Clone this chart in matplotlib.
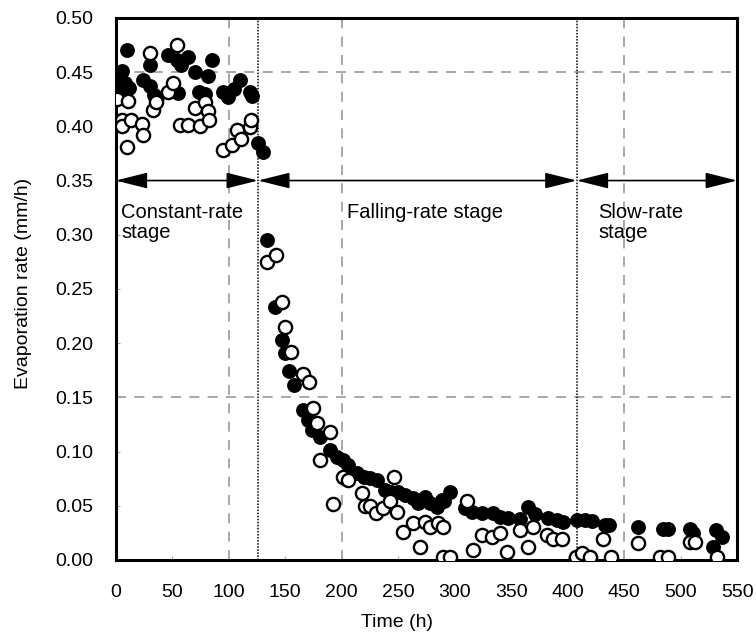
import matplotlib
matplotlib.use('Agg')
import matplotlib.pyplot as plt

plt.rcParams['font.family'] = ['Liberation Sans', 'DejaVu Sans']

# Filled circles (series 1): time (h), evaporation rate (mm/h)
t_filled = [0, 2, 4, 6, 8, 10, 12, 24, 30, 30, 34, 37, 46, 54, 55, 58, 64, 70, 74, 79,
            82, 85, 95, 99, 105, 110, 119, 121, 126, 130,
            134, 141, 147, 150, 153, 158, 166, 170, 174, 181, 190, 196, 201, 206, 214,
            220, 225, 231, 238, 244, 250, 256, 263, 268, 274, 278, 284, 289, 291, 296,
            309, 315, 324, 334, 340, 347, 358, 365, 371, 383, 391, 396, 408, 415, 422,
            433, 437, 462, 484, 489, 508, 511, 529, 531, 537]
v_filled = [0.437, 0.443, 0.430, 0.451, 0.440, 0.470, 0.435, 0.443, 0.457, 0.437, 0.429, 0.427,
            0.466, 0.461, 0.431, 0.457, 0.464, 0.450, 0.432, 0.430, 0.446, 0.461, 0.432,
            0.427, 0.434, 0.443, 0.432, 0.428, 0.385, 0.376,
            0.295, 0.233, 0.203, 0.191, 0.174, 0.161, 0.138, 0.129, 0.120, 0.113, 0.101,
            0.095, 0.092, 0.088, 0.080, 0.077, 0.076, 0.074, 0.065, 0.063, 0.063, 0.060,
            0.057, 0.053, 0.058, 0.053, 0.049, 0.055, 0.054, 0.063,
            0.048, 0.044, 0.043, 0.043, 0.040, 0.039, 0.038, 0.049, 0.042, 0.039, 0.037,
            0.035, 0.037, 0.037, 0.036, 0.032, 0.032, 0.030, 0.029, 0.029, 0.029, 0.025,
            0.012, 0.028, 0.021]

# Open circles (series 2)
t_open = [1, 6, 6, 10, 11, 14, 23, 24, 30, 33, 36, 46, 51, 54, 57, 64, 70, 75, 79, 82,
          83, 95, 103, 107, 111, 119, 120,
          134, 142, 147, 150, 155, 166, 171, 175, 178, 181, 190, 192, 201, 206, 218,
          221, 225, 230, 237, 243, 246, 249, 254, 263, 269, 274, 278, 285, 290, 290, 296,
          311, 316, 324, 333, 340, 346, 358, 365, 369, 382, 387, 395, 407, 413, 420,
          431, 438, 462, 482, 489, 508, 513, 532]
v_open = [0.425, 0.406, 0.400, 0.381, 0.423, 0.406, 0.402, 0.392, 0.468, 0.415, 0.422,
          0.432, 0.440, 0.475, 0.401, 0.401, 0.417, 0.400, 0.422, 0.414, 0.406, 0.378,
          0.383, 0.397, 0.388, 0.399, 0.406,
          0.275, 0.281, 0.238, 0.215, 0.192, 0.172, 0.164, 0.140, 0.126, 0.092, 0.118,
          0.052, 0.077, 0.074, 0.062, 0.050, 0.050, 0.043, 0.048, 0.054, 0.077, 0.044,
          0.026, 0.034, 0.012, 0.035, 0.030, 0.034, 0.030, 0.003, 0.003,
          0.054, 0.009, 0.023, 0.021, 0.025, 0.007, 0.028, 0.012, 0.030, 0.023, 0.019,
          0.019, 0.003, 0.006, 0.003, 0.019, 0.003, 0.016, 0.003, 0.003, 0.017, 0.017,
          0.003]

# Stage boundaries (h)
stage_edges = [0, 126, 408, 550]
stage_labels = ['Constant-rate\nstage', 'Falling-rate stage', 'Slow-rate\nstage']

fig = plt.figure(figsize=(7.56, 6.4), dpi=100)
ax = fig.add_axes([0.153, 0.125, 0.822, 0.847])

# dashed reference grid
for x in [100, 200, 450]:
    ax.axvline(x, color='#999999', ls=(0, (6, 5)), lw=1.2, zorder=1)
for y in [0.15, 0.45]:
    ax.axhline(y, color='#999999', ls=(0, (6, 5)), lw=1.2, zorder=1)

# stage boundaries
for x in stage_edges[1:3]:
    ax.axvline(x, color='black', ls=(0, (1, 1)), lw=1.1, zorder=2)

ax.plot(t_filled, v_filled, 'o', ms=9.5, mfc='black', mec='black', mew=1.2, zorder=3)
ax.plot(t_open, v_open, 'o', ms=9.5, mfc='white', mec='black', mew=1.7, zorder=4)

# arrows between stage boundaries
for a, b in zip(stage_edges[:-1], stage_edges[1:]):
    ax.annotate('', xy=(a, 0.35), xytext=(b, 0.35),
                arrowprops=dict(arrowstyle='<|-|>,head_length=1.4,head_width=0.35',
                                mutation_scale=14, color='black', lw=1.2,
                                shrinkA=0, shrinkB=0), zorder=5)

ax.text(5, 0.329, stage_labels[0], fontsize=14.5, va='top', ha='left', linespacing=1.05)
ax.text(205, 0.329, stage_labels[1], fontsize=14.5, va='top', ha='left')
ax.text(427, 0.329, stage_labels[2], fontsize=14.5, va='top', ha='left', linespacing=1.05)

ax.set_xlim(0, 550)
ax.set_ylim(0, 0.5)
ax.set_xticks(range(0, 551, 50))
ax.set_yticks([i * 0.05 for i in range(11)])
ax.set_yticklabels([f'{i * 0.05:.2f}' for i in range(11)])
ax.tick_params(direction='in', length=3, width=0.8, color='#aaaaaa', labelsize=14)
ax.tick_params(axis='y', pad=16)
ax.tick_params(axis='x', pad=17)
for s in ax.spines.values():
    s.set_linewidth(2.2)

ax.set_xlabel('Time (h)', fontsize=14)
ax.set_ylabel('Evaporation rate (mm/h)', fontsize=14)
ax.xaxis.set_label_coords(0.452, -0.1)
ax.yaxis.set_label_coords(-0.135, 0.51)

fig.savefig('out.png', dpi=100)
